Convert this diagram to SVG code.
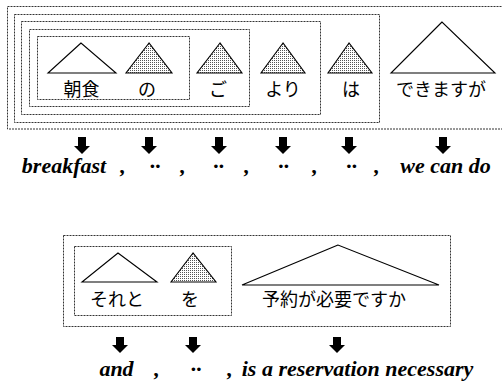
<svg xmlns="http://www.w3.org/2000/svg" width="502" height="383" viewBox="0 0 502 383">
<defs>
<pattern id="stip" width="2" height="2" patternUnits="userSpaceOnUse">
<rect width="2" height="2" fill="#fff"/>
<rect width="1" height="1" fill="#555"/>
</pattern>
<style>
.box{fill:none;stroke:#333;stroke-width:1;stroke-dasharray:2 1}
.tri{fill:#fff;stroke:#000;stroke-width:1.1}
.dot{fill:url(#stip);stroke:#000;stroke-width:1.1}
.jp{font-family:'Noto Sans CJK JP','Noto Sans',sans-serif;font-size:18px;fill:#000;text-anchor:middle}
.en{font-family:'Liberation Serif',serif;font-size:22px;font-weight:bold;font-style:italic;fill:#000;text-anchor:middle}
.arr{fill:#000}
</style>
</defs>
<rect width="502" height="383" fill="#fff"/>
<g id="groups">
<rect class="box" x="7.5" y="6.5" width="497" height="122.5"/>
<rect class="box" x="14.5" y="14.5" width="365" height="108"/>
<rect class="box" x="21.5" y="21.5" width="299" height="93"/>
<rect class="box" x="29.5" y="29.5" width="220" height="77"/>
<rect class="box" x="37.5" y="36.5" width="152" height="63"/>
<rect class="box" x="63.5" y="235.5" width="387" height="91"/>
<rect class="box" x="74.5" y="246.5" width="157" height="69"/>
</g>
<g id="n-chousyoku"><polygon class="tri" points="81,43 48,73 116,73"/><text class="jp" x="81.5" y="96">朝食</text></g>
<g id="n-no"><polygon class="dot" points="149,43 126,73 172,73"/><text class="jp" x="147" y="96">の</text></g>
<g id="n-go"><polygon class="dot" points="220,43 197,73 242,73"/><text class="jp" x="218" y="96">ご</text></g>
<g id="n-yori"><polygon class="dot" points="283,43 261,73 305,73"/><text class="jp" x="283" y="96">より</text></g>
<g id="n-wa"><polygon class="dot" points="349,43 328,73 372,73"/><text class="jp" x="351" y="96">は</text></g>
<g id="n-dekimasuga"><polygon class="tri" points="442,22 391,73 495,73"/><text class="jp" x="441" y="96">できますが</text></g>
<g id="n-soreto"><polygon class="tri" points="118,253 82,282 157,282"/><text class="jp" x="117" y="306">それと</text></g>
<g id="n-wo"><polygon class="dot" points="193,253 171,282 216,282"/><text class="jp" x="190" y="306">を</text></g>
<g id="n-yoyaku"><polygon class="tri" points="338,245 242,285 439,285"/><text class="jp" x="334" y="306">予約が必要ですか</text></g>
<g id="connectors">
<polygon class="arr" points="78,137 86,137 86,146 90,146 82,154 74,146 78,146"/>
<polygon class="arr" points="145,137 153,137 153,146 157,146 149,154 141,146 145,146"/>
<polygon class="arr" points="215,137 223,137 223,146 227,146 219,154 211,146 215,146"/>
<polygon class="arr" points="279,137 287,137 287,146 291,146 283,154 275,146 279,146"/>
<polygon class="arr" points="345,137 353,137 353,146 357,146 349,154 341,146 345,146"/>
<polygon class="arr" points="439,137 447,137 447,146 451,146 443,154 435,146 439,146"/>
<polygon class="arr" points="116,337 124,337 124,345 128,345 120,353 112,345 116,345"/>
<polygon class="arr" points="189,337 197,337 197,345 201,345 193,353 185,345 189,345"/>
<polygon class="arr" points="333,337 341,337 341,345 345,345 337,353 329,345 333,345"/>
</g>
<g id="gloss-top">
<text class="en" x="64" y="173">breakfast</text>
<text class="en" x="123" y="173">,</text>
<text class="en" x="155" y="173">··</text>
<text class="en" x="183" y="173">,</text>
<text class="en" x="218.5" y="173">··</text>
<text class="en" x="247" y="173">,</text>
<text class="en" x="283.5" y="173">··</text>
<text class="en" x="315" y="173">,</text>
<text class="en" x="351.5" y="173">··</text>
<text class="en" x="377" y="173">,</text>
<text class="en" x="445.5" y="173">we can do</text>
</g>
<g id="gloss-bottom">
<text class="en" x="116.5" y="376">and</text>
<text class="en" x="157" y="376">,</text>
<text class="en" x="196" y="376">··</text>
<text class="en" x="230" y="376">,</text>
<text class="en" x="357.5" y="376">is a reservation necessary</text>
</g>
</svg>
